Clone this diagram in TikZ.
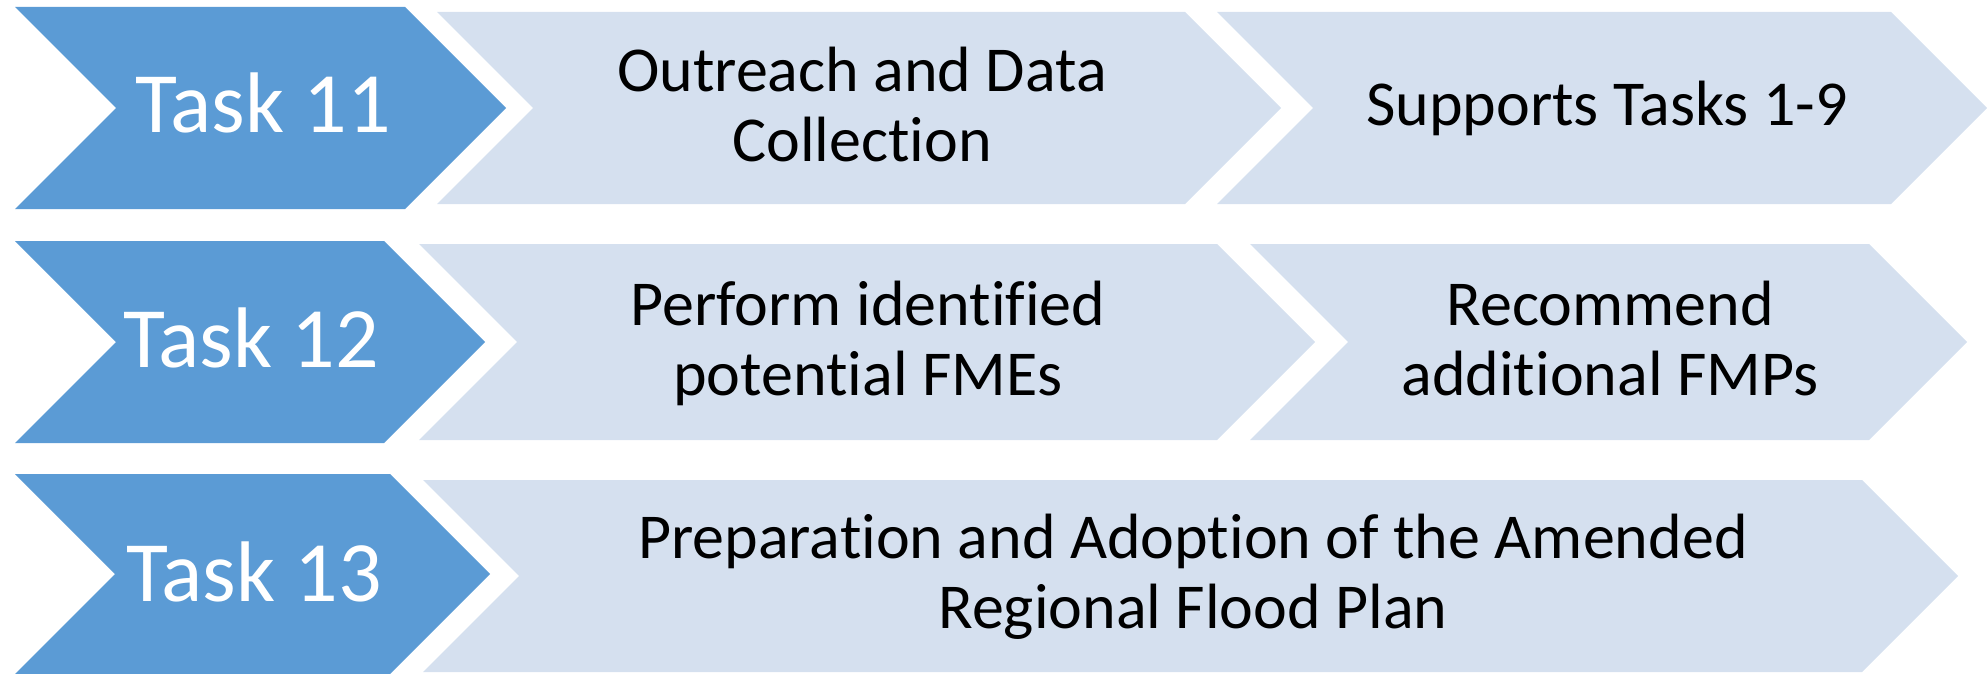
\documentclass[tikz,border=0pt]{standalone}
\usepackage{fontspec}
\setmainfont{Carlito}[Ligatures=NoCommon]
\definecolor{taskblue}{RGB}{91,155,213}
\definecolor{paleblue}{RGB}{213,224,239}
% chevron: left x, shoulder x, top y, bottom y, fill
\newcommand{\chevron}[5]{%
  \fill[#5] (#1,#3) -- (#2,#3) -- ({#2+(#4-#3)/2},{(#3+#4)/2}) -- (#2,#4)
    -- (#1,#4) -- ({#1+(#4-#3)/2},{(#3+#4)/2}) -- cycle;}

\begin{document}
\begin{tikzpicture}[x=1pt, y=-1pt,
    tasklabel/.style={white, inner sep=0pt, anchor=base, font=\fontsize{86}{92}\selectfont},
    desclabel/.style={black, inner sep=0pt, anchor=base, align=center, font=\fontsize{64}{70}\selectfont}]
  \useasboundingbox (0,0) rectangle (1987,674);

  % Task 11
  \chevron{15}{405}{7}{209}{taskblue}
  \chevron{437}{1185}{12}{204}{paleblue}
  \chevron{1217}{1891}{12}{204}{paleblue}
  \node[tasklabel] (task11) at (263,133) {Task 11};
  \node[desclabel] (outreach) at (862,161) {Outreach and Data\\Collection};
  \node[desclabel] (supports) at (1607,126) {Supports Tasks 1-9};

  % Task 12
  \chevron{15}{384}{241}{443}{taskblue}
  \chevron{419}{1217}{244}{440}{paleblue}
  \chevron{1250}{1869}{244}{440}{paleblue}
  \node[tasklabel] (task12) at (251,367) {Task 12};
  \node[desclabel] (perform) at (868,395) {Perform identified\\potential FMEs};
  \node[desclabel] (recommend) at (1610,395) {Recommend\\additional FMPs};

  % Task 13
  \chevron{15}{390}{474}{674}{taskblue}
  \chevron{423}{1862}{480}{672}{paleblue}
  \node[tasklabel] (task13) at (254,601) {Task 13};
  \node[desclabel] (adoption) at (1193,628) {Preparation and Adoption of the Amended\\Regional Flood Plan};
\end{tikzpicture}
\end{document}
